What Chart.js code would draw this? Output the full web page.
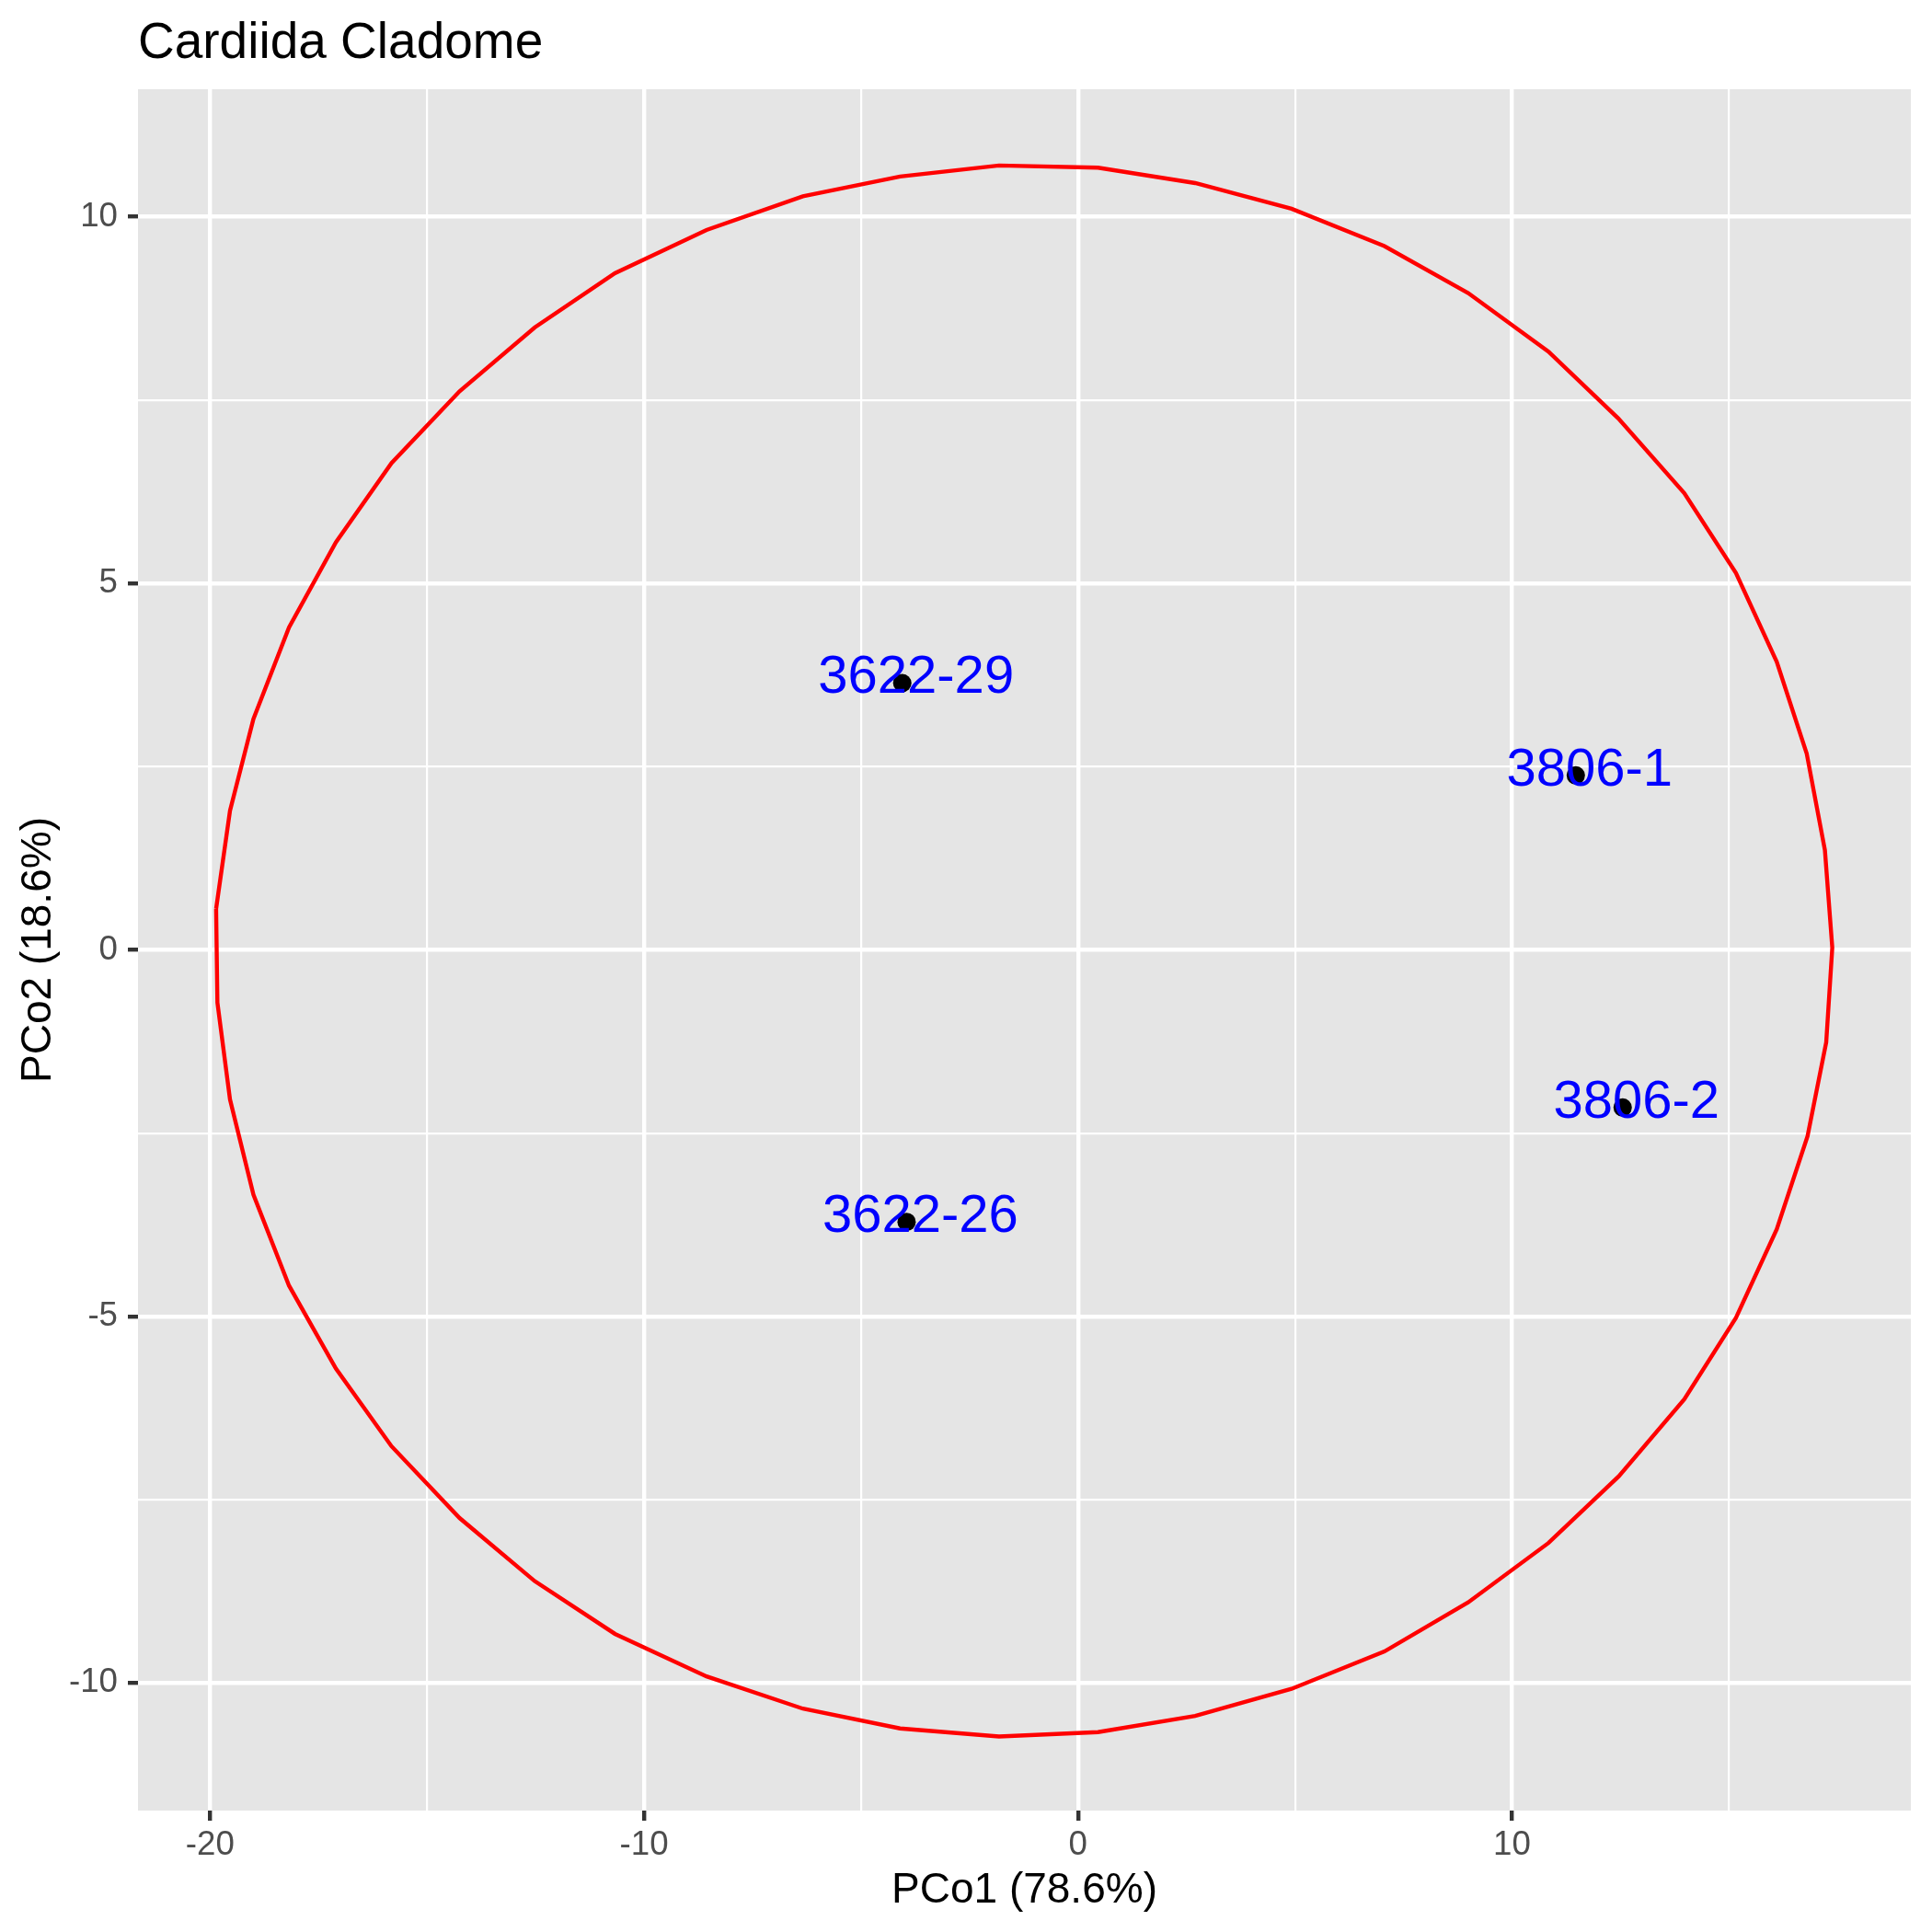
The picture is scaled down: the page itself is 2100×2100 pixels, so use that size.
<!DOCTYPE html>
<html>
<head>
<meta charset="utf-8">
<script src="https://cdn.jsdelivr.net/npm/chart.js@4.4.1/dist/chart.umd.min.js"></script>
<style>
  html, body { margin: 0; padding: 0; background: #fff; }
  #wrap { width: 2100px; height: 2100px; }
</style>
</head>
<body>
<div id="wrap"><canvas id="pcoaChart" width="2100" height="2100"></canvas></div>
<script>
// sample points (PCo1, PCo2)
var pointLabels = ['3622-29', '3806-1', '3806-2', '3622-26'];
var pointX = [-4.05, 11.47, 12.55, -3.95];
var pointY = [3.64, 2.38, -2.15, -3.71];

// outline polygon vertices
var circleX = [-19.86, -19.54, -19.00, -18.18, -17.10, -15.82, -14.25, -12.52, -10.67, -8.56,
               -6.34, -4.10, -1.82, 0.46, 2.70, 4.92, 7.06, 8.99, 10.84, 12.45,
               13.97, 15.16, 16.10, 16.79, 17.21, 17.38, 17.24, 16.81, 16.10, 15.16,
               13.97, 12.46, 10.84, 8.99, 7.06, 4.92, 2.70, 0.46, -1.82, -4.10,
               -6.34, -8.56, -10.67, -12.52, -14.25, -15.82, -17.10, -18.18, -19.00, -19.54,
               -19.83, -19.86];
var circleY = [0.56, 1.90, 3.15, 4.40, 5.56, 6.64, 7.62, 8.49, 9.23, 9.82,
               10.28, 10.55, 10.70, 10.67, 10.46, 10.11, 9.60, 8.96, 8.16, 7.25,
               6.23, 5.14, 3.93, 2.68, 1.36, 0.03, -1.26, -2.54, -3.81, -5.02,
               -6.13, -7.18, -8.09, -8.90, -9.57, -10.08, -10.45, -10.67, -10.73, -10.62,
               -10.35, -9.91, -9.33, -8.61, -7.75, -6.77, -5.71, -4.58, -3.34, -2.04,
               -0.72, 0.56];

// axis ticks
var xMajor = [-20, -10, 0, 10];
var xMinor = [-15, -5, 5, 15];
var yMajor = [-10, -5, 0, 5, 10];
var yMinor = [-7.5, -2.5, 2.5, 7.5];

var xRange = [-21.66, 19.19];
var yRange = [-11.74, 11.74];

function toXY(xs, ys) {
    return xs.map(function(x, i) { return { x: x, y: ys[i] }; });
}

function isMajor(list, v) {
    return list.some(function(m) { return Math.abs(m - v) < 1e-9; });
}

var FONT = "'Liberation Sans', Arial, Helvetica, sans-serif";

var panelBg = {
    id: 'panelBg',
    beforeDraw: function(chart) {
        var a = chart.chartArea, c = chart.ctx;
        c.save();
        c.fillStyle = '#E5E5E5';
        c.fillRect(a.left, a.top, a.right - a.left, a.bottom - a.top);
        c.restore();
    }
};

var labelsAndTitles = {
    id: 'labelsAndTitles',
    afterDatasetsDraw: function(chart) {
        var c = chart.ctx, xs = chart.scales.x, ys = chart.scales.y;
        c.save();
        c.fillStyle = '#0000FF';
        c.font = '58px ' + FONT;
        c.textAlign = 'center';
        c.textBaseline = 'middle';
        pointLabels.forEach(function(lab, i) {
            c.fillText(lab, xs.getPixelForValue(pointX[i]) + 15, ys.getPixelForValue(pointY[i]) - 5);
        });
        c.restore();
    },
    afterDraw: function(chart) {
        var c = chart.ctx, a = chart.chartArea;
        c.save();
        c.fillStyle = '#000';
        c.font = '55px ' + FONT;
        c.textAlign = 'left';
        c.textBaseline = 'alphabetic';
        c.fillText('Cardiida Cladome', a.left, 63);

        c.font = '46px ' + FONT;
        c.textAlign = 'center';
        c.fillText('PCo1 (78.6%)', (a.left + a.right) / 2, 2068);

        c.translate(55, (a.top + a.bottom) / 2);
        c.rotate(-Math.PI / 2);
        c.fillText('PCo2 (18.6%)', 0, 0);
        c.restore();
    }
};

function axis(range, major, minor, isX) {
    return {
        type: 'linear',
        min: range[0],
        max: range[1],
        afterBuildTicks: function(scale) {
            scale.ticks = major.concat(minor).sort(function(a, b) { return a - b; })
                .map(function(v) { return { value: v }; });
        },
        afterFit: function(scale) {
            if (isX) scale.height = 132; else scale.width = 150;
        },
        border: { display: false },
        grid: {
            color: '#FFFFFF',
            lineWidth: function(ctx) { return isMajor(major, ctx.tick.value) ? 4.4 : 2.2; },
            tickLength: 11,
            tickColor: function(ctx) { return isMajor(major, ctx.tick.value) ? '#333333' : 'rgba(0,0,0,0)'; },
            tickWidth: 4.4
        },
        ticks: {
            autoSkip: false,
            maxRotation: 0,
            padding: isX ? 5 : 11,
            color: '#4D4D4D',
            font: { family: FONT, size: 36.7 },
            callback: function(v) { return isMajor(major, v) ? String(v) : ''; }
        }
    };
}

var ctx = document.getElementById('pcoaChart').getContext('2d');
var myChart = new Chart(ctx, {
    type: 'scatter',
    data: {
        datasets: [
            {
                data: toXY(circleX, circleY),
                showLine: true,
                borderColor: '#FF0000',
                borderWidth: 4.4,
                pointRadius: 0,
                tension: 0,
                fill: false
            },
            {
                data: toXY(pointX, pointY),
                pointRadius: 10,
                pointBackgroundColor: '#000000',
                pointBorderWidth: 0,
                showLine: false
            }
        ]
    },
    options: {
        responsive: false,
        devicePixelRatio: 1,
        animation: false,
        layout: { padding: { top: 97, right: 23, left: 0, bottom: 0 } },
        plugins: {
            legend: { display: false },
            tooltip: { enabled: false },
            title: { display: false }
        },
        scales: {
            x: axis(xRange, xMajor, xMinor, true),
            y: axis(yRange, yMajor, yMinor, false)
        }
    },
    plugins: [panelBg, labelsAndTitles]
});
</script>
</body>
</html>
